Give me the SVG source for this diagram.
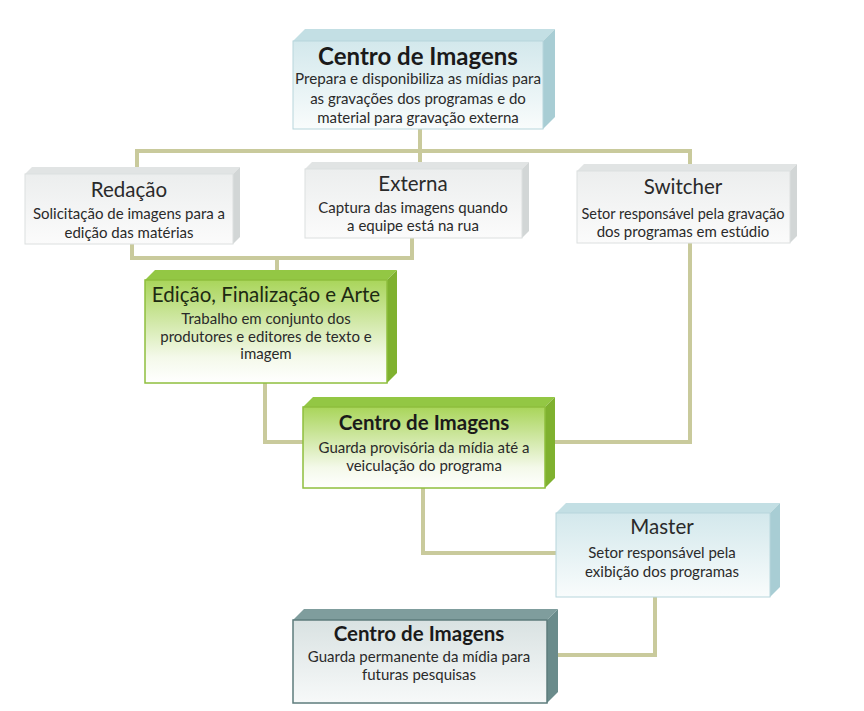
<svg xmlns="http://www.w3.org/2000/svg" width="864" height="711" viewBox="0 0 864 711">
<defs>
<linearGradient id="gBlue" x1="0" y1="0" x2="0" y2="1"><stop offset="0" stop-color="#d3e8ec"/><stop offset="1" stop-color="#f9fcfc"/></linearGradient>
<linearGradient id="gGray" x1="0" y1="0" x2="0" y2="1"><stop offset="0" stop-color="#eceeee"/><stop offset="1" stop-color="#fbfbfb"/></linearGradient>
<linearGradient id="gGreen" x1="0" y1="0" x2="0" y2="1"><stop offset="0" stop-color="#a9d55a"/><stop offset="0.75" stop-color="#f4f9ea"/><stop offset="1" stop-color="#ffffff"/></linearGradient>
<linearGradient id="gSlate" x1="0" y1="0" x2="0" y2="1"><stop offset="0" stop-color="#d9e2e2"/><stop offset="1" stop-color="#f7f9f9"/></linearGradient>
</defs>
<style>
.conn{fill:none;stroke:#c9ca9c;stroke-width:4}
text{font-family:Lato,"Open Sans","Liberation Sans",sans-serif;text-anchor:middle;fill:#2a2a2a}
.tb{font-weight:bold;font-size:24px;fill:#1a1a1a}
.tb2{font-weight:bold;font-size:20.5px;fill:#1a1a1a}
.tr{font-size:20.5px;fill:#2a2a2a}
.b{font-size:15px}
.blue .f{fill:url(#gBlue);stroke:#b7d6dc;stroke-width:1}
.blue .t{fill:#c3dfe4}.blue .s{fill:#a8cdd4}
.gray .f{fill:url(#gGray);stroke:#dcdfdf;stroke-width:1}
.gray .t{fill:#e1e4e4}.gray .s{fill:#d2d6d6}
.green .f{fill:url(#gGreen);stroke:#8fbf3e;stroke-width:1.5}
.green .t{fill:#93c744}.green .s{fill:#7fb12f}
.slate .f{fill:url(#gSlate);stroke:#5e7c7c;stroke-width:1.5}
.slate .t{fill:#7f9d9d}.slate .s{fill:#6a8b8b}
</style>
<rect width="864" height="711" fill="#ffffff"/>
<g id="connectors">
<path class="conn" d="M420,129 V151 M137,167 V151 H690 V170 M420,151 V168"/>
<path class="conn" d="M132,244 V258 H412 V238 M277,258 V280"/>
<path class="conn" d="M265,383 V442 H303"/>
<path class="conn" d="M690,243 V442 H545"/>
<path class="conn" d="M423,488 V553 H556"/>
<path class="conn" d="M655,597 V655 H547"/>
</g>
<g id="centro1" class="blue">
<polygon class="t" points="293,41 305,29 555,29 543,41"/>
<polygon class="s" points="543,41 555,29 555,117 543,129"/>
<rect class="f" x="293" y="41" width="250" height="88"/>
<text class="tb" x="418" y="65">Centro de Imagens</text>
<text class="b" x="418" y="84" textLength="246" lengthAdjust="spacingAndGlyphs">Prepara e disponibiliza as mídias para</text>
<text class="b" x="418" y="104">as gravações dos programas e do</text>
<text class="b" x="418" y="123">material para gravação externa</text>
</g>
<g id="redacao" class="gray">
<polygon class="t" points="25,174 32,167 240,167 233,174"/>
<polygon class="s" points="233,174 240,167 240,237 233,244"/>
<rect class="f" x="25" y="174" width="208" height="70"/>
<text class="tr" x="129" y="197">Redação</text>
<text class="b" x="129" y="219">Solicitação de imagens para a</text>
<text class="b" x="129" y="238">edição das matérias</text>
</g>
<g id="externa" class="gray">
<polygon class="t" points="305,169 312,162 529,162 522,169"/>
<polygon class="s" points="522,169 529,162 529,231 522,238"/>
<rect class="f" x="305" y="169" width="217" height="69"/>
<text class="tr" x="413" y="191">Externa</text>
<text class="b" x="413" y="213">Captura das imagens quando</text>
<text class="b" x="413" y="231">a equipe está na rua</text>
</g>
<g id="switcher" class="gray">
<polygon class="t" points="577,171 584,164 797,164 790,171"/>
<polygon class="s" points="790,171 797,164 797,236 790,243"/>
<rect class="f" x="577" y="171" width="213" height="72"/>
<text class="tr" x="683" y="194">Switcher</text>
<text class="b" x="683" y="219" textLength="203" lengthAdjust="spacingAndGlyphs">Setor responsável pela gravação</text>
<text class="b" x="683" y="237">dos programas em estúdio</text>
</g>
<g id="edicao" class="green">
<polygon class="t" points="145,280 155,270 397,270 387,280"/>
<polygon class="s" points="387,280 397,270 397,373 387,383"/>
<rect class="f" x="145" y="280" width="242" height="103"/>
<text class="tr" x="266" y="302" style="fill:#1d2a12">Edição, Finalização e Arte</text>
<text class="b" x="266" y="324">Trabalho em conjunto dos</text>
<text class="b" x="266" y="342">produtores e editores de texto e</text>
<text class="b" x="266" y="359">imagem</text>
</g>
<g id="centro2" class="green">
<polygon class="t" points="303,407 313,397 555,397 545,407"/>
<polygon class="s" points="545,407 555,397 555,478 545,488"/>
<rect class="f" x="303" y="407" width="242" height="81"/>
<text class="tb2" x="424" y="430">Centro de Imagens</text>
<text class="b" x="424" y="453">Guarda provisória da mídia até a</text>
<text class="b" x="424" y="471">veiculação do programa</text>
</g>
<g id="master" class="blue">
<polygon class="t" points="556,513 566,503 780,503 770,513"/>
<polygon class="s" points="770,513 780,503 780,587 770,597"/>
<rect class="f" x="556" y="513" width="214" height="84"/>
<text class="tr" x="662" y="534">Master</text>
<text class="b" x="662" y="558">Setor responsável pela</text>
<text class="b" x="662" y="577">exibição dos programas</text>
</g>
<g id="centro3" class="slate">
<polygon class="t" points="293,620 304,609 558,609 547,620"/>
<polygon class="s" points="547,620 558,609 558,692 547,703"/>
<rect class="f" x="293" y="620" width="254" height="83"/>
<text class="tb2" x="419" y="641">Centro de Imagens</text>
<text class="b" x="419" y="662">Guarda permanente da mídia para</text>
<text class="b" x="419" y="680">futuras pesquisas</text>
</g>
</svg>
